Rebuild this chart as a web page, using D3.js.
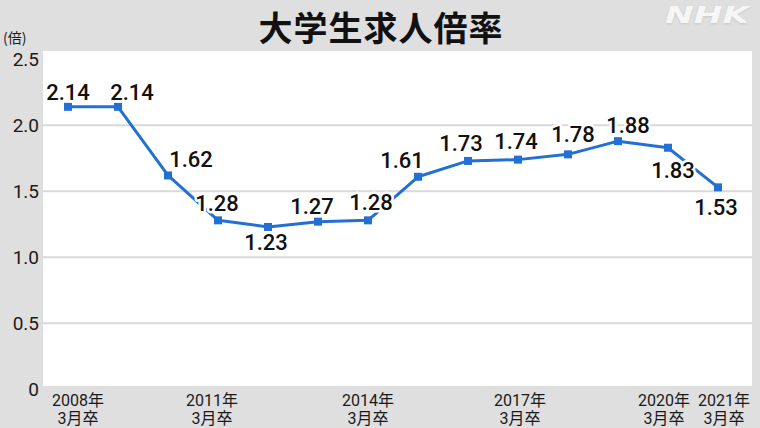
<!DOCTYPE html>
<html>
<head>
<meta charset="utf-8">
<script src="https://cdn.jsdelivr.net/npm/d3@7/dist/d3.min.js"></script>
<style>
  html, body { margin: 0; padding: 0; background: #dfdfdf; }
  svg { display: block; }
  text { font-family: Roboto, "Noto Sans CJK JP", sans-serif; }
</style>
</head>
<body>
<svg id="chart" width="760" height="428"></svg>
<script>
// 大学生求人倍率 (graduating class of March each year)
const years = [2008, 2009, 2010, 2011, 2012, 2013, 2014, 2015, 2016, 2017, 2018, 2019, 2020, 2021];
const ratios = [2.14, 2.14, 1.62, 1.28, 1.23, 1.27, 1.28, 1.61, 1.73, 1.74, 1.78, 1.88, 1.83, 1.53];
const yTicks = [0, 0.5, 1.0, 1.5, 2.0, 2.5];
const yTickLabels = ["0", "0.5", "1.0", "1.5", "2.0", "2.5"];
const xLabelYears = [2008, 2011, 2014, 2017, 2020, 2021];

// label placement relative to each point (px)
const labelDx = [0, 14, 23, -1, -2, -6, 3, -16, -7, -2, 5, 10, 5, -2];
const labelDy = [-7, -7, -8, -9, 23, -8, -10, -9, -10, -11, -12, -8, 30, 28];
const xLabelDx = [10, -6, 0, 2, -4, 6];

const svg = d3.select("#chart");
const W = 760, H = 428;

svg.append("rect").attr("width", W).attr("height", H).attr("fill", "#dfdfdf");

// plot panel
const panel = { left: 43, right: 752, top: 51, bottom: 386 };
svg.append("rect")
  .attr("x", panel.left).attr("y", panel.top)
  .attr("width", panel.right - panel.left).attr("height", panel.bottom - panel.top)
  .attr("fill", "#ffffff");

const x = d3.scaleLinear().domain([2008, 2021]).range([68, 718]);
const y = d3.scaleLinear().domain([0, 2.5]).range([389.3, 59.3]);

// gridlines
svg.append("g")
  .selectAll("line")
  .data(yTicks.filter(t => t > 0 && t < 2.5))
  .join("line")
  .attr("x1", panel.left).attr("x2", panel.right)
  .attr("y1", d => y(d)).attr("y2", d => y(d))
  .attr("stroke", "#d9d9d9").attr("stroke-width", 2);

// y axis
const yAxis = d3.axisLeft(y)
  .tickValues(yTicks)
  .tickFormat((d, i) => yTickLabels[i])
  .tickSize(0)
  .tickPadding(0);
const gy = svg.append("g").attr("transform", "translate(39,0)").call(yAxis);
gy.select(".domain").remove();
gy.selectAll("text")
  .attr("font-size", 19)
  .attr("fill", "#1a1a1a")
  .attr("dy", "0.34em")
  .style("font-family", "Roboto, sans-serif");

// unit
svg.append("text")
  .attr("x", 3).attr("y", 43)
  .attr("font-size", 14).attr("fill", "#1a1a1a")
  .style("font-family", "'Noto Sans CJK JP', sans-serif")
  .text("(倍)");

// title
svg.append("text")
  .attr("x", 381).attr("y", 26)
  .attr("text-anchor", "middle")
  .attr("dominant-baseline", "central")
  .attr("font-size", 34).attr("font-weight", 700)
  .attr("letter-spacing", 1)
  .attr("fill", "#111")
  .style("font-family", "'Noto Sans CJK JP', sans-serif")
  .text("大学生求人倍率");

// broadcaster mark
const defs = svg.append("defs");
const f = defs.append("filter").attr("id", "soft").attr("x", "-20%").attr("y", "-20%").attr("width", "140%").attr("height", "140%");
f.append("feGaussianBlur").attr("stdDeviation", 1.2);
[["#c8c8c8", 23.5, "url(#soft)"], ["#f6f6f6", 23, null]].forEach(([fill, yy, flt]) => {
  svg.append("text")
    .attr("x", 707).attr("y", yy)
    .attr("text-anchor", "middle")
    .attr("font-size", 23).attr("font-weight", 700).attr("font-style", "italic")
    .attr("textLength", 84).attr("lengthAdjust", "spacingAndGlyphs")
    .attr("fill", fill).attr("filter", flt)
    .style("font-family", "'DejaVu Sans', sans-serif")
    .text("NHK");
});

// x axis labels (two lines)
const xl = svg.append("g")
  .selectAll("text")
  .data(xLabelYears)
  .join("text")
  .attr("text-anchor", "middle")
  .attr("font-size", 16)
  .attr("fill", "#1a1a1a")
  .style("font-family", "Roboto, 'Noto Sans CJK JP', sans-serif");
xl.append("tspan")
  .attr("x", (d, i) => x(d) + xLabelDx[i]).attr("y", 406)
  .text(d => d + "年");
xl.append("tspan")
  .attr("x", (d, i) => x(d) + xLabelDx[i]).attr("y", 424)
  .text("3月卒");

// series line
const pts = years.map((yr, i) => ({ yr, v: ratios[i], i }));
svg.append("path")
  .datum(pts)
  .attr("fill", "none")
  .attr("stroke", "#2270d3")
  .attr("stroke-width", 3)
  .attr("stroke-linejoin", "round")
  .attr("d", d3.line().x(d => x(d.yr)).y(d => y(d.v)));

// markers
svg.append("g")
  .selectAll("rect")
  .data(pts)
  .join("rect")
  .attr("x", d => x(d.yr) - 4).attr("y", d => y(d.v) - 4)
  .attr("width", 8).attr("height", 8)
  .attr("fill", "#2270d3");

// value labels with white halo
svg.append("g")
  .selectAll("text")
  .data(pts)
  .join("text")
  .attr("x", d => x(d.yr) + labelDx[d.i])
  .attr("y", d => y(d.v) + labelDy[d.i])
  .attr("text-anchor", "middle")
  .attr("font-size", 22).attr("font-weight", 500)
  .attr("fill", "#111")
  .attr("stroke", "#ffffff").attr("stroke-width", 5)
  .attr("stroke-linejoin", "round")
  .attr("paint-order", "stroke")
  .style("font-family", "Roboto, sans-serif")
  .text(d => d.v.toFixed(2));
</script>
</body>
</html>
